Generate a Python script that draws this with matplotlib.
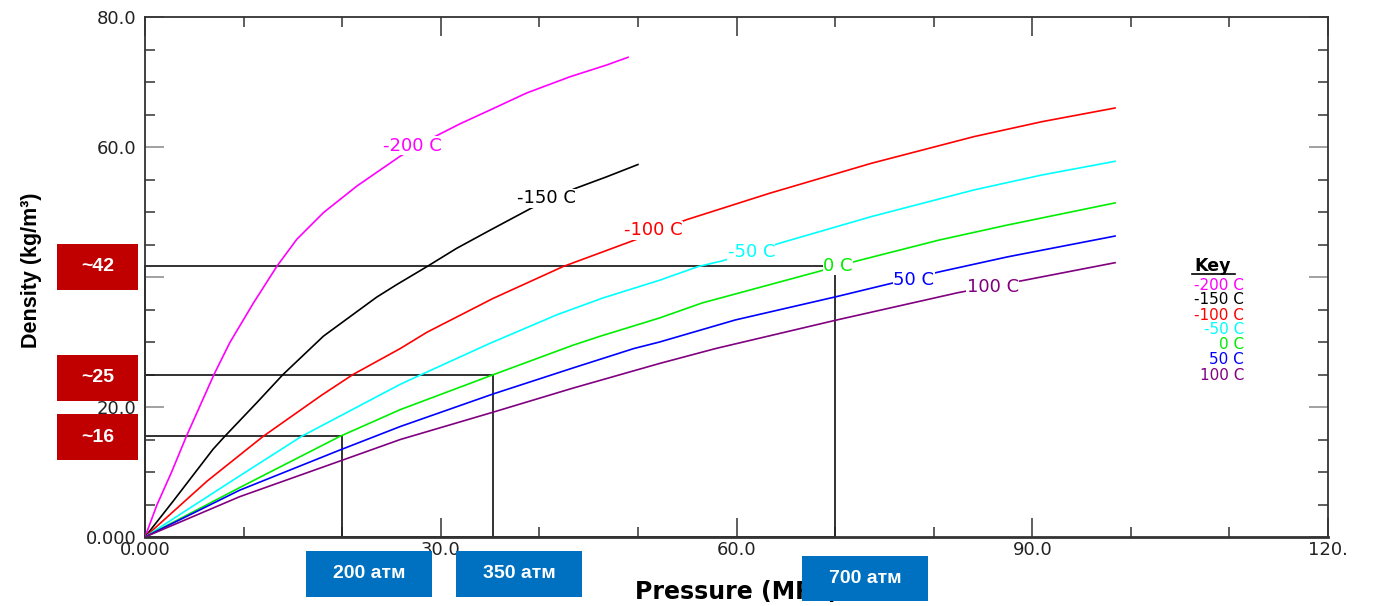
import matplotlib
matplotlib.use("Agg")
import matplotlib.pyplot as plt
from matplotlib.patches import Rectangle
from matplotlib.lines import Line2D
from matplotlib.ticker import MultipleLocator

# hydrogen density isotherms (pressure MPa, density kg/m3)
temps = ["-200 C", "-150 C", "-100 C", "-50 C", "0 C", "50 C", "100 C"]
colors = ["#ff00ff", "#000000", "#ff0000", "#00ffff", "#00ee00", "#0000ff", "#800080"]

p_m200 = [0, 1.2, 2.7, 4.2, 7.0, 8.6, 11.0, 13.4, 15.4, 18.1, 21.5, 25.9, 29.4, 32.0, 35.3, 38.7, 43.1, 46.8, 49.0]
d_m200 = [0, 4.9, 10.0, 15.5, 25.0, 29.9, 36.0, 41.7, 45.8, 49.9, 54.0, 58.6, 61.6, 63.6, 65.9, 68.3, 70.8, 72.6, 73.8]

p_m150 = [0, 2.9, 6.9, 8.1, 11.3, 14.0, 18.1, 23.5, 25.5, 28.6, 31.6, 35.0, 39.2, 43.6, 46.8, 50.0]
d_m150 = [0, 5.6, 13.5, 15.5, 20.6, 25.0, 30.9, 36.9, 38.8, 41.6, 44.4, 47.2, 50.6, 53.6, 55.4, 57.3]

p_m100 = [0, 6.3, 12.0, 17.9, 21.1, 25.9, 28.6, 35.3, 42.4, 49.7, 54.9, 63.4, 73.7, 84.1, 91.0, 98.4]
d_m100 = [0, 8.6, 15.5, 21.8, 25.0, 29.0, 31.5, 36.7, 41.6, 45.7, 48.8, 52.9, 57.5, 61.6, 63.9, 66.0]

p_m50 = [0, 9.6, 15.9, 25.9, 27.9, 35.0, 41.8, 46.5, 52.2, 56.1, 58.6, 64.6, 73.7, 84.1, 91.0, 98.4]
d_m50 = [0, 9.4, 15.5, 23.5, 24.9, 29.8, 34.2, 36.8, 39.5, 41.6, 42.5, 45.3, 49.3, 53.4, 55.7, 57.8]

p_0 = [0, 9.6, 19.8, 25.9, 35.2, 43.4, 46.2, 52.2, 56.5, 68.2, 72.3, 80.6, 87.5, 98.4]
d_0 = [0, 7.6, 15.5, 19.6, 24.9, 29.5, 30.9, 33.7, 36.0, 40.8, 42.5, 45.7, 48.0, 51.4]

p_50 = [0, 9.6, 19.8, 25.9, 35.3, 43.4, 49.6, 52.2, 59.9, 70.2, 75.1, 80.6, 87.5, 98.4]
d_50 = [0, 7.2, 13.4, 17.0, 22.0, 26.0, 29.0, 30.0, 33.4, 37.0, 38.8, 40.8, 43.1, 46.3]

p_100 = [0, 9.6, 19.8, 25.9, 35.3, 43.4, 52.2, 57.9, 70.2, 82.5, 89.2, 98.4]
d_100 = [0, 6.2, 11.7, 15.0, 19.2, 22.9, 26.7, 29.0, 33.4, 37.6, 39.5, 42.2]

pressures = [p_m200, p_m150, p_m100, p_m50, p_0, p_50, p_100]
densities = [d_m200, d_m150, d_m100, d_m50, d_0, d_50, d_100]

# storage points marked with boxes (MPa, kg/m3)
box_p = [20.0, 35.3, 70.0]
box_d = [15.5, 25.0, 41.7]

x_ticks = [0, 30, 60, 90, 120]
x_tick_labels = ["0.000", "30.0", "60.0", "90.0", "120."]
y_ticks = [0, 20, 40, 60, 80]
y_tick_labels = ["0.000", "20.0", "40.0", "60.0", "80.0"]

red_tags = ["~42", "~25", "~16"]
blue_tags = ["200 атм", "350 атм", "700 атм"]

# layout
W, H = 1373, 606
label_xy = [(27.1, 60.2), (40.7, 52.1), (51.6, 47.2), (61.5, 43.9),
            (70.3, 41.7), (78.0, 39.6), (86.0, 38.5)]
red_boxes = [(57, 244, 138, 290), (57, 355, 138, 401), (57, 414, 138, 460)]
blue_boxes = [(306, 551, 432, 597), (456, 551, 582, 597), (802, 556, 928, 601)]


def fx(px):
    return px / W


def fy(py):
    return 1 - py / H


def tag(fig, box, text, color):
    x0, y0, x1, y1 = box
    fig.add_artist(Rectangle((fx(x0), fy(y1)), fx(x1) - fx(x0), fy(y0) - fy(y1),
                             transform=fig.transFigure, facecolor=color,
                             edgecolor="none", zorder=10))
    fig.text(fx((x0 + x1) / 2), fy((y0 + y1) / 2), text, color="white",
             family="Liberation Sans", fontweight="bold", fontsize=14,
             ha="center", va="center", zorder=11)


fig = plt.figure(figsize=(W / 100, H / 100), dpi=100)
ax = fig.add_axes([fx(145), fy(537), fx(1328) - fx(145), fy(17) - fy(537)])

for p, d, name, c, (lx, ly) in zip(pressures, densities, temps, colors, label_xy):
    ax.plot(p, d, color=c, lw=1.2, zorder=3)
    ax.text(lx, ly, name, color=c, fontsize=13, ha="center", va="center", zorder=4,
            bbox=dict(facecolor="white", edgecolor="none", pad=0.3))

for bp, bd in zip(box_p, box_d):
    ax.plot([0, bp, bp, 0, 0], [bd, bd, 0, 0, bd], color="#222222", lw=1.3,
            clip_on=False, zorder=2)

ax.set_xlim(0, 120)
ax.set_ylim(0, 80)
ax.set_xticks(x_ticks, x_tick_labels)
ax.set_yticks(y_ticks, y_tick_labels)
ax.xaxis.set_minor_locator(MultipleLocator(10))
ax.yaxis.set_minor_locator(MultipleLocator(5))
ax.tick_params(which="both", direction="in", top=True, right=True,
               width=1.1, color="#333333", labelsize=13, labelcolor="#222222")
ax.tick_params(which="major", length=14)
ax.tick_params(which="minor", length=7)
ax.tick_params(axis="y", which="major", color="#888888", pad=6)
ax.tick_params(axis="x", pad=3)
for s in ax.spines.values():
    s.set_color("#333333")
    s.set_linewidth(1.3)
ax.spines["bottom"].set_linewidth(2)

fig.text(fx(737), fy(592), "Pressure (MPa)", fontsize=17, fontweight="bold",
         ha="center", va="center")
fig.text(fx(32), fy(270), "Density (kg/m³)", family="Liberation Sans",
         fontweight="bold", fontsize=15.5, rotation=90, ha="center", va="center")

# key
fig.text(fx(1213), fy(266), "Key", fontsize=12.5, fontweight="bold",
         ha="center", va="center")
fig.add_artist(Line2D([fx(1192), fx(1235)], [fy(274), fy(274)], color="black", lw=1.2))
for i, (name, c) in enumerate(zip(temps, colors)):
    fig.text(fx(1244), fy(285 + i * 15), name, color=c, fontsize=11,
             ha="right", va="center")

for box, t in zip(red_boxes, red_tags):
    tag(fig, box, t, "#c00000")
for box, t in zip(blue_boxes, blue_tags):
    tag(fig, box, t, "#0070c0")

fig.savefig("out.png", dpi=100)
